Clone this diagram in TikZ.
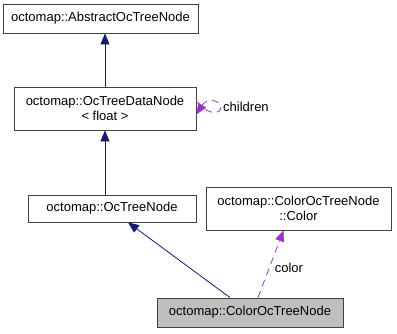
\documentclass[tikz,border=0pt]{standalone}
\usepackage{fontspec}
\setmainfont{Liberation Sans}
\usetikzlibrary{arrows.meta}
\definecolor{inherit}{HTML}{191970}
\definecolor{usage}{HTML}{9A32CD}
\definecolor{current}{HTML}{BFBFBF}
\begin{document}
\begin{tikzpicture}[x=1pt,y=-1pt,
  cls/.style={draw=black!75,line width=0.8pt,fill=white,inner sep=0pt,
    font=\fontsize{13}{15.5}\selectfont,align=center},
  inh/.style={draw=inherit,line width=0.8pt,-{Triangle[length=11pt,width=9pt,fill=inherit]}},
  use/.style={draw=usage,line width=0.8pt,dash pattern=on 7pt off 5pt,
    -{Triangle[length=11pt,width=9pt,fill=usage]}},
  lbl/.style={font=\fontsize{13}{15.5}\selectfont,inner sep=1pt}]
\useasboundingbox (0,0) rectangle (397,333);
% class boxes
\node[cls,minimum width=195pt,minimum height=29pt] (abs) at (100.5,18.5) {octomap::AbstractOcTreeNode};
\node[cls,minimum width=182pt,minimum height=43pt] (data) at (105,108.5) {octomap::OcTreeDataNode\\\textless\ float \textgreater};
\node[cls,minimum width=168pt,minimum height=27pt] (oc) at (112,208.5) {octomap::OcTreeNode};
\node[cls,minimum width=185pt,minimum height=43pt] (col) at (298.5,208.5) {octomap::ColorOcTreeNode\\::Color};
\node[cls,fill=current,minimum width=186pt,minimum height=29pt] (cur) at (250,312.5) {octomap::ColorOcTreeNode};
% inheritance
\draw[inh] (data.north) -- (data.north |- abs.south);
\draw[inh] (oc.north -| data.south) -- (data.south);
\draw[inh] ([xshift=-20pt]cur.north) -- ([xshift=16pt]oc.south);
% usage relations
\draw[use] ([xshift=8pt]cur.north) -- ([xshift=-15pt]col.south) node[lbl,pos=0.45,right=4pt] {color};
\draw[use] ([yshift=7pt]data.east) .. controls (212,119) and (224,112) .. (220,105)
  .. controls (217,99) and (206,99) .. ([yshift=-6pt]data.east);
\node[lbl,anchor=west] (ch) at (222,107) {children};
\end{tikzpicture}
\end{document}
